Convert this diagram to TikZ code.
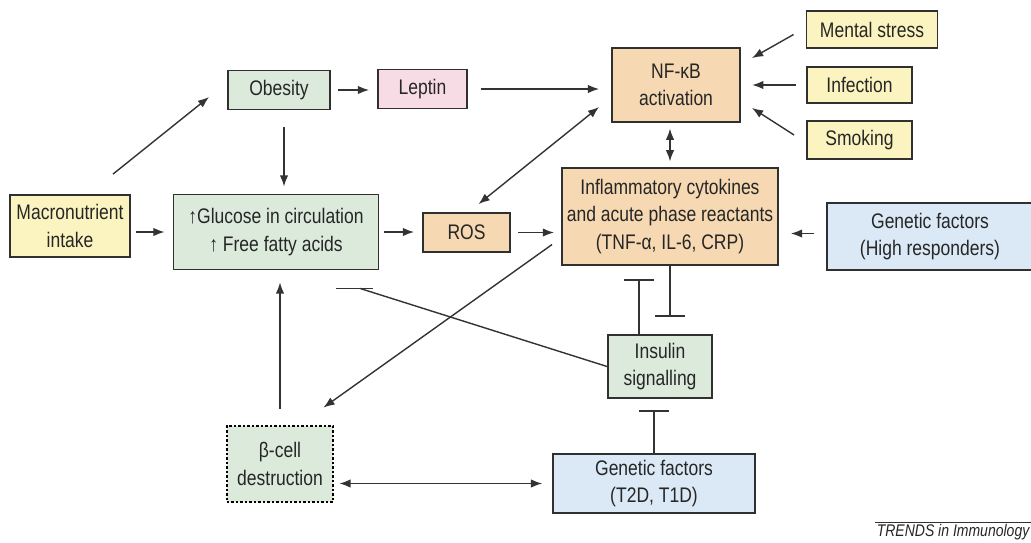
\documentclass[tikz,border=0pt]{standalone}
\usepackage{fontspec}
\setmainfont{Liberation Sans}[FakeStretch=0.83]
\usetikzlibrary{arrows.meta,calc}
\definecolor{edge}{HTML}{303030}
\definecolor{wire}{HTML}{333333}
\definecolor{txt}{HTML}{262626}
\definecolor{sun}{HTML}{FBF4C0}
\definecolor{sage}{HTML}{DCEADB}
\definecolor{rose}{HTML}{F8DCE5}
\definecolor{peach}{HTML}{F6D8B2}
\definecolor{sky}{HTML}{DAE9F5}
\begin{document}
\begin{tikzpicture}[x=0.025cm,y=-0.025cm,
  box/.style={draw=edge,line width=1.3pt,text=txt,align=center,inner sep=0pt,
    font=\fontsize{15}{19.5}\selectfont},
  link/.style={draw=wire,line width=1pt},
  >={Latex[length=8pt,width=6pt]},
  stop/.style={-{Bar[width=22pt,line width=1.3pt]}}]
\useasboundingbox (0,0) rectangle (1031,542);
\node[box,fill=sun,minimum width=3cm,minimum height=1.55cm] (macro)at(70,226){Macronutrient\\intake};
\node[box,fill=sage,minimum width=5.125cm,minimum height=1.875cm] (gluc)at(276,232){↑Glucose in circulation\\↑ Free fatty acids};
\node[box,fill=sage,minimum width=2.55cm,minimum height=0.975cm] (obes)at(279,90){Obesity};
\node[box,fill=rose,minimum width=2.225cm,minimum height=0.975cm] (lept)at(422.5,89){Leptin};
\node[box,fill=peach,minimum width=3.2cm,minimum height=1.85cm] (nfkb)at(676,85){NF-κB\\activation};
\node[box,fill=sun,minimum width=3.275cm,minimum height=0.925cm] (ment)at(872,29.5){Mental stress};
\node[box,fill=sun,minimum width=2.625cm,minimum height=0.9cm] (infe)at(859.5,85){Infection};
\node[box,fill=sun,minimum width=2.625cm,minimum height=0.95cm] (smok)at(859.5,140){Smoking};
\node[box,fill=peach,minimum width=5.4cm,minimum height=2.425cm] (infl)at(670,216.5){Inflammatory cytokines\\and acute phase reactants\\(TNF-α, IL-6, CRP)};
\node[box,fill=peach,minimum width=2.175cm,minimum height=0.975cm] (ros)at(466.5,232.5){ROS};
\node[box,fill=sky,minimum width=5.15cm,minimum height=1.675cm] (genh)at(930,236.5){Genetic factors\\(High responders)};
\node[box,fill=sage,minimum width=2.6cm,minimum height=1.575cm] (insu)at(660,366.5){Insulin\\signalling};
\node[box,fill=sage,draw=black,line width=2pt,dash pattern=on 1.6pt off 1.6pt,minimum width=2.65cm,minimum height=1.9cm] (beta)at(280,464){β-cell\\destruction};
\node[box,fill=sky,minimum width=5.05cm,minimum height=1.475cm] (gent)at(654,483.5){Genetic factors\\(T2D, T1D)};
\node[anchor=east,text=txt,inner sep=1pt,font=\fontsize{12}{14}\selectfont\itshape] (trends)at(1031,532){TRENDS in Immunology};
% arrows
\draw[link,->,shorten <=3.5pt,shorten >=5.7pt] (gluc.west -| macro.east) -- (gluc.west);
\draw[link,->] ($(macro.north)+(43,-20)$) -- ($(obes.west)+(-18,7)$);
\draw[link,->,shorten <=12pt,shorten >=5pt] ($(obes.south)+(5,0)$) -- ($(obes.south |- gluc.north)+(5,0)$);
\draw[link,->,shorten <=5pt,shorten >=5.7pt] (obes.east) -- (obes.east -| lept.west);
\draw[link,->,shorten <=9pt,shorten >=8.5pt] (lept.east) -- (lept.east -| nfkb.west);
\draw[link,->] ($(ment.west)+(-12,5)$) -- ($(nfkb.north east)+(11,11)$);
\draw[link,->,shorten <=7pt,shorten >=8pt] (infe.west) -- (infe.west -| nfkb.east);
\draw[link,->] ($(smok.west)+(-12,-5)$) -- ($(nfkb.south east)+(11,-15)$);
\draw[link,<->,shorten <=4pt,shorten >=4pt] (infl.north) -- (infl.north |- nfkb.south);
\draw[link,<->] ($(nfkb.west)+(-12,22)$) -- ($(ros.north)+(12,-8)$);
\draw[link,->,shorten <=3pt,shorten >=5.7pt] (gluc.east) -- (gluc.east -| ros.west);
\draw[link,->,shorten <=5pt,shorten >=5pt] (ros.east) -- (ros.east -| infl.west);
\draw[link,->,shorten <=8.5pt,shorten >=8.5pt] ($(genh.west)+(0,-3)$) -- ($(genh.west -| infl.east)+(0,-3)$);
\draw[link,->] ($(infl.west)+(-9,28)$) -- ($(beta.north east)+(-11,-17)$);
\draw[link,->,shorten <=11pt,shorten >=8.5pt] (beta.north) -- (beta.north |- gluc.south);
\draw[link,<->,shorten <=3.5pt,shorten >=7pt] (gent.west -| beta.east) -- (gent.west);
% inhibition
\draw[link,stop] (infl.south) -- ($(insu.north -| infl.south)+(0,-17)$);
\draw[link,stop] ($(insu.north)+(-21,0)$) -- ($(infl.south -| insu.north)+(-21,13)$);
\draw[link,stop] (gent.north) -- ($(insu.south -| gent.north)+(0,11)$);
\coordinate (glbar) at ($(gluc.south)+(84,18)$);
\draw[link] (insu.west) -- (glbar);
\draw[link,line width=1.3pt] ($(glbar)+(-24,0)$) -- ($(glbar)+(13,0)$);
\draw[link] (trends.north west) -- (trends.north east);
\end{tikzpicture}
\end{document}
